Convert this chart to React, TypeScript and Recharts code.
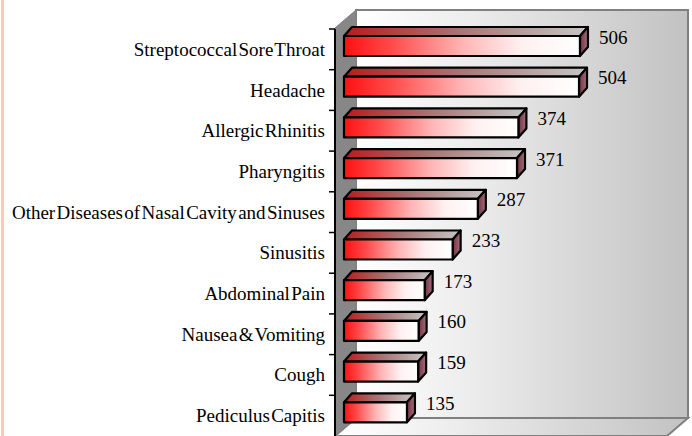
import React from 'react';
import { BarChart, Bar, XAxis, YAxis, LabelList } from 'recharts';

const categories = [
  'Streptococcal Sore Throat',
  'Headache',
  'Allergic Rhinitis',
  'Pharyngitis',
  'Other Diseases of Nasal Cavity and Sinuses',
  'Sinusitis',
  'Abdominal Pain',
  'Nausea & Vomiting',
  'Cough',
  'Pediculus Capitis',
];
const cases = [506, 504, 374, 371, 287, 233, 173, 160, 159, 135];
const xDomain = [0, 700];

const data = categories.map((name, i) => ({ name, value: cases[i] }));

// layout constants
const W = 692;
const H = 436;
const PLOT_LEFT = 335;
const PLOT_TOP = 29;
const PLOT_BOTTOM = 436;
const PX_PER_UNIT = 0.4663;
const PLOT_W = (xDomain[1] - xDomain[0]) * PX_PER_UNIT;
const RIGHT_MARGIN = W - PLOT_LEFT - PLOT_W;
const BAND = (PLOT_BOTTOM - PLOT_TOP) / categories.length;

// 3D wall geometry
const FRONT_RIGHT = 667;
const FRONT_TOP = 28;
const DX = 21;
const DY = 18;

// bar 3D
const BAR_SHIFT_X = 9;
const BAR_SHIFT_Y = -3;
const BAR_H = 20;
const BDX = 8;
const BDY = 9;

const FONT = '"Liberation Serif", "Times New Roman", serif';

function Bar3D(props: any) {
  const { x, y, width, height } = props;
  if (width == null || width <= 0) return null;
  const x0 = x + BAR_SHIFT_X;
  const x1 = x + width + BAR_SHIFT_X;
  const yt = y + BAR_SHIFT_Y;
  const yb = yt + height;
  const sw = 2.2;
  return (
    <g strokeLinejoin="round">
      <polygon
        points={`${x0},${yt} ${x0 + BDX},${yt - BDY} ${x1 + BDX},${yt - BDY} ${x1},${yt}`}
        fill="url(#barTop)"
        stroke="#000"
        strokeWidth={sw}
      />
      <polygon
        points={`${x1},${yt} ${x1 + BDX},${yt - BDY} ${x1 + BDX},${yb - BDY} ${x1},${yb}`}
        fill="url(#barSide)"
        stroke="#000"
        strokeWidth={sw}
      />
      <rect x={x0} y={yt} width={x1 - x0} height={height} fill="url(#barFront)" stroke="#000" strokeWidth={sw} />
    </g>
  );
}

function ValueLabel(props: any) {
  const { x, y, width, value } = props;
  return (
    <text
      x={x + width + BAR_SHIFT_X + BDX + 11}
      y={y + BAR_SHIFT_Y + 1}
      dominantBaseline="central"
      fontFamily={FONT}
      fontSize={19}
      fill="#000"
    >
      {value}
    </text>
  );
}

function CatTick(props: any) {
  const { y, payload } = props;
  return (
    <g>
      <line x1={PLOT_LEFT - 6} x2={PLOT_LEFT} y1={y - BAND / 2} y2={y - BAND / 2} stroke="#000" strokeWidth={1.5} />
      <text
        x={PLOT_LEFT - 10}
        y={y}
        textAnchor="end"
        dominantBaseline="central"
        fontFamily={FONT}
        fontSize={19}
        wordSpacing={-3.4}
        fill="#000"
      >
        {payload.value}
      </text>
    </g>
  );
}

function Walls() {
  const backL = PLOT_LEFT + DX;
  const backR = FRONT_RIGHT + DX;
  const backT = FRONT_TOP - DY;
  const backB = PLOT_BOTTOM - DY;
  return (
    <svg width={W} height={H} style={{ position: 'absolute', left: 0, top: 0 }}>
      <defs>
        <linearGradient id="wallGrad" x1="0" y1="0" x2="1" y2="0">
          <stop offset="0" stopColor="#ffffff" />
          <stop offset="0.35" stopColor="#ececec" />
          <stop offset="1" stopColor="#c2c2c2" />
        </linearGradient>
        <linearGradient id="floorGrad" x1="0" y1="0" x2="1" y2="0">
          <stop offset="0" stopColor="#ffffff" />
          <stop offset="0.35" stopColor="#ececec" />
          <stop offset="1" stopColor="#c2c2c2" />
        </linearGradient>
      </defs>
      <rect x={1} y={0} width={3} height={H} fill="#ffc8b8" />
      <rect x={backL} y={backT} width={backR - backL} height={backB - backT} fill="url(#wallGrad)" stroke="#808080" strokeWidth={2} />
      <polygon
        points={`${PLOT_LEFT},${PLOT_BOTTOM} ${backL},${backB} ${backR},${backB} ${FRONT_RIGHT},${PLOT_BOTTOM}`}
        fill="url(#floorGrad)"
        stroke="#808080"
        strokeWidth={2}
      />
      <polygon
        points={`${PLOT_LEFT},${FRONT_TOP} ${backL},${backT} ${backL},${backB} ${PLOT_LEFT},${PLOT_BOTTOM}`}
        fill="#878787"
        stroke="#808080"
        strokeWidth={1}
      />
    </svg>
  );
}

export default function App() {
  return (
    <div style={{ position: 'absolute', left: 0, top: 0, width: W, height: H, background: '#fff' }}>
      <Walls />
      <div style={{ position: 'absolute', left: 0, top: 0 }}>
        <BarChart
          width={W}
          height={H}
          data={data}
          layout="vertical"
          margin={{ top: PLOT_TOP, right: RIGHT_MARGIN, bottom: 0, left: 0 }}
          barSize={BAR_H}
        >
          <defs>
            <linearGradient id="barFront" x1="0" y1="0" x2="1" y2="0">
              <stop offset="0" stopColor="#ff1010" />
              <stop offset="0.2" stopColor="#ff4a4a" />
              <stop offset="0.5" stopColor="#ffb4b4" />
              <stop offset="0.75" stopColor="#fff0f0" />
              <stop offset="1" stopColor="#ffffff" />
            </linearGradient>
            <linearGradient id="barTop" x1="0" y1="0" x2="1" y2="0">
              <stop offset="0" stopColor="#bb1a1a" />
              <stop offset="0.45" stopColor="#a87070" />
              <stop offset="1" stopColor="#c6c6c6" />
            </linearGradient>
            <linearGradient id="barSide" x1="0" y1="0" x2="1" y2="0">
              <stop offset="0" stopColor="#7a3040" />
              <stop offset="1" stopColor="#a07080" />
            </linearGradient>
          </defs>
          <XAxis type="number" domain={xDomain} hide />
          <YAxis
            type="category"
            dataKey="name"
            width={PLOT_LEFT}
            axisLine={{ stroke: '#000', strokeWidth: 2 }}
            tickLine={false}
            tick={<CatTick />}
            interval={0}
          />
          <Bar dataKey="value" shape={<Bar3D />} isAnimationActive={false}>
            <LabelList dataKey="value" content={<ValueLabel />} />
          </Bar>
        </BarChart>
      </div>
    </div>
  );
}
